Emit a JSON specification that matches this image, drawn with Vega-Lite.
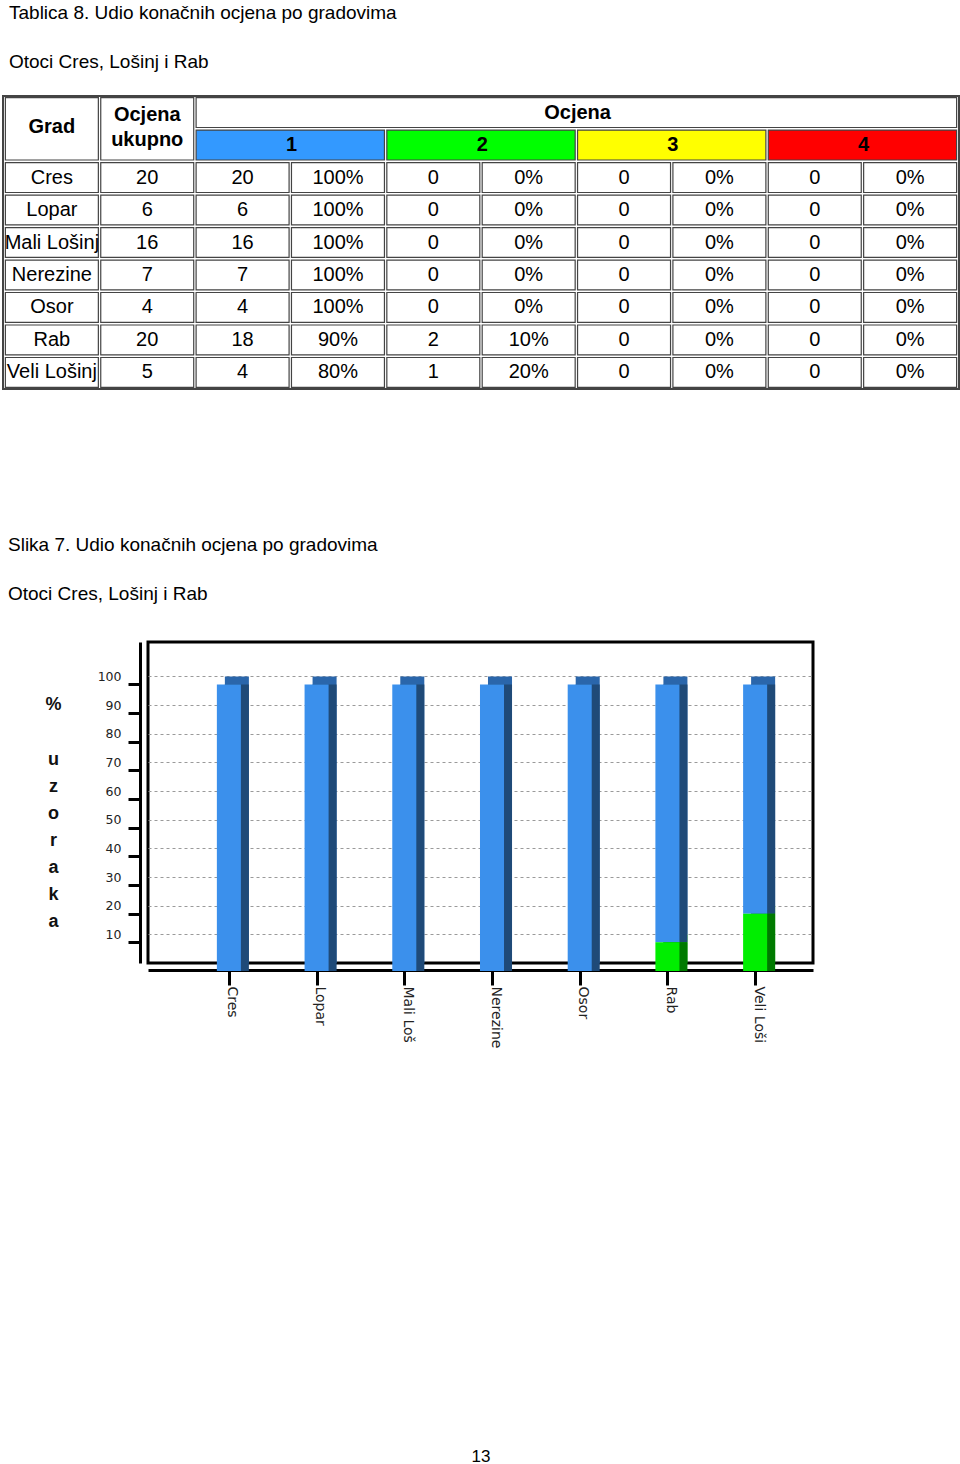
{
  "$schema": "https://vega.github.io/schema/vega-lite/v6.json",
  "background": "white",
  "padding": {"left": 2, "top": 3, "right": 0, "bottom": 0},
  "config": {
    "font": "Liberation Sans",
    "view": {"stroke": null},
    "title": {"fontSize": 19, "fontWeight": "normal", "color": "black", "subtitleFontSize": 19, "subtitleColor": "black", "subtitlePadding": 30, "anchor": "start"}
  },
  "datasets": {
    "tablica": [
      {"Grad": "Cres", "ukupno": 20, "n1": 20, "p1": "100%", "n2": 0, "p2": "0%", "n3": 0, "p3": "0%", "n4": 0, "p4": "0%"},
      {"Grad": "Lopar", "ukupno": 6, "n1": 6, "p1": "100%", "n2": 0, "p2": "0%", "n3": 0, "p3": "0%", "n4": 0, "p4": "0%"},
      {"Grad": "Mali Lošinj", "ukupno": 16, "n1": 16, "p1": "100%", "n2": 0, "p2": "0%", "n3": 0, "p3": "0%", "n4": 0, "p4": "0%"},
      {"Grad": "Nerezine", "ukupno": 7, "n1": 7, "p1": "100%", "n2": 0, "p2": "0%", "n3": 0, "p3": "0%", "n4": 0, "p4": "0%"},
      {"Grad": "Osor", "ukupno": 4, "n1": 4, "p1": "100%", "n2": 0, "p2": "0%", "n3": 0, "p3": "0%", "n4": 0, "p4": "0%"},
      {"Grad": "Rab", "ukupno": 20, "n1": 18, "p1": "90%", "n2": 2, "p2": "10%", "n3": 0, "p3": "0%", "n4": 0, "p4": "0%"},
      {"Grad": "Veli Lošinj", "ukupno": 5, "n1": 4, "p1": "80%", "n2": 1, "p2": "20%", "n3": 0, "p3": "0%", "n4": 0, "p4": "0%"}
    ],
    "zaglavlje": [
      {"r0": "h1", "r1": "h2", "c0": "Grad", "c1": "Grad", "tx": "Grad", "tekst": "Grad", "vrsta": "w", "spoj": "redci"},
      {"r0": "h1", "r1": "h2", "c0": "ukupno", "c1": "ukupno", "tx": "ukupno", "tekst": "Ocjena\nukupno", "vrsta": "w", "spoj": "redci2"},
      {"r0": "h1", "r1": "h1", "c0": "n1", "c1": "p4", "tx": "n3", "tekst": "Ocjena", "vrsta": "w", "spoj": "stupci"},
      {"r0": "h2", "r1": "h2", "c0": "n1", "c1": "p1", "tx": "p1", "tekst": "1", "vrsta": "1", "spoj": "stupci"},
      {"r0": "h2", "r1": "h2", "c0": "n2", "c1": "p2", "tx": "p2", "tekst": "2", "vrsta": "2", "spoj": "stupci"},
      {"r0": "h2", "r1": "h2", "c0": "n3", "c1": "p3", "tx": "p3", "tekst": "3", "vrsta": "3", "spoj": "stupci"},
      {"r0": "h2", "r1": "h2", "c0": "n4", "c1": "p4", "tx": "p4", "tekst": "4", "vrsta": "4", "spoj": "stupci"}
    ],
    "grafikon": [
      {"grad": "Cres", "ocjena": "1", "postotak": 100}, {"grad": "Cres", "ocjena": "2", "postotak": 0},
      {"grad": "Lopar", "ocjena": "1", "postotak": 100}, {"grad": "Lopar", "ocjena": "2", "postotak": 0},
      {"grad": "Mali Lošinj", "ocjena": "1", "postotak": 100}, {"grad": "Mali Lošinj", "ocjena": "2", "postotak": 0},
      {"grad": "Nerezine", "ocjena": "1", "postotak": 100}, {"grad": "Nerezine", "ocjena": "2", "postotak": 0},
      {"grad": "Osor", "ocjena": "1", "postotak": 100}, {"grad": "Osor", "ocjena": "2", "postotak": 0},
      {"grad": "Rab", "ocjena": "1", "postotak": 90}, {"grad": "Rab", "ocjena": "2", "postotak": 10},
      {"grad": "Veli Lošinj", "ocjena": "1", "postotak": 80}, {"grad": "Veli Lošinj", "ocjena": "2", "postotak": 20}
    ],
    "stranica": [{"broj": "13"}],
    "prazno": []
  },
  "spacing": 398,
  "vconcat": [
    {
      "spacing": 144,
      "vconcat": [
        {
          "width": 956,
          "height": 293,
          "view": {"stroke": "#444", "strokeWidth": 2, "fill": "white"},
          "title": {"text": "Tablica 8. Udio konačnih ocjena po gradovima", "subtitle": "Otoci Cres, Lošinj i Rab", "frame": "group", "dx": 6, "offset": 24},
          "layer": [
            {
              "data": {"name": "tablica"},
              "transform": [{"fold": ["Grad", "ukupno", "n1", "p1", "n2", "p2", "n3", "p3", "n4", "p4"], "as": ["stupac", "vrijednost"]}],
              "mark": {"type": "rect", "fill": "white", "stroke": "#444", "strokeWidth": 1.2},
              "encoding": {
                "x": {"field": "stupac", "type": "nominal", "axis": null, "scale": {"domain": ["Grad", "ukupno", "n1", "p1", "n2", "p2", "n3", "p3", "n4", "p4"], "paddingInner": 0.025, "paddingOuter": 0.025}},
                "y": {"field": "Grad", "type": "nominal", "axis": null, "scale": {"domain": ["h1", "h2", "Cres", "Lopar", "Mali Lošinj", "Nerezine", "Osor", "Rab", "Veli Lošinj"], "paddingInner": 0.08, "paddingOuter": 0.05}}
              }
            },
            {
              "data": {"name": "tablica"},
              "transform": [{"fold": ["Grad", "ukupno", "n1", "p1", "n2", "p2", "n3", "p3", "n4", "p4"], "as": ["stupac", "vrijednost"]}],
              "mark": {"type": "text", "fontSize": 20, "color": "black"},
              "encoding": {
                "x": {"field": "stupac", "type": "nominal", "axis": null},
                "y": {"field": "Grad", "type": "nominal", "axis": null},
                "text": {"field": "vrijednost", "type": "nominal"}
              }
            },
            {
              "data": {"name": "zaglavlje"},
              "mark": {"type": "rect", "stroke": "#444", "strokeWidth": 1.2},
              "encoding": {
                "x": {"field": "c0", "type": "nominal", "bandPosition": 0, "axis": null},
                "x2": {"field": "c1", "bandPosition": 1},
                "y": {"field": "r0", "type": "nominal", "bandPosition": 0, "axis": null},
                "y2": {"field": "r1", "bandPosition": 1},
                "fill": {"field": "vrsta", "type": "nominal", "legend": null, "scale": {"domain": ["w", "1", "2", "3", "4"], "range": ["#ffffff", "#3399ff", "#00ff00", "#ffff00", "#ff0000"]}}
              }
            },
            {
              "data": {"name": "zaglavlje"},
              "transform": [{"filter": "datum.spoj == 'redci'"}],
              "mark": {"type": "text", "fontSize": 20, "fontWeight": "bold", "color": "black", "dy": -3},
              "encoding": {
                "x": {"field": "c0", "type": "nominal", "axis": null},
                "y": {"field": "r1", "type": "nominal", "bandPosition": 0, "axis": null},
                "text": {"field": "tekst", "type": "nominal"}
              }
            },
            {
              "data": {"name": "zaglavlje"},
              "transform": [{"filter": "datum.spoj == 'redci2'"}],
              "mark": {"type": "text", "fontSize": 20, "fontWeight": "bold", "color": "black", "lineBreak": "\n", "lineHeight": 25, "dy": -15},
              "encoding": {
                "x": {"field": "c0", "type": "nominal", "axis": null},
                "y": {"field": "r1", "type": "nominal", "bandPosition": 0, "axis": null},
                "text": {"field": "tekst", "type": "nominal"}
              }
            },
            {
              "data": {"name": "zaglavlje"},
              "transform": [{"filter": "datum.spoj == 'stupci'"}],
              "mark": {"type": "text", "fontSize": 20, "fontWeight": "bold", "color": "black"},
              "encoding": {
                "x": {"field": "tx", "type": "nominal", "bandPosition": 0, "axis": null},
                "y": {"field": "r0", "type": "nominal", "axis": null},
                "text": {"field": "tekst", "type": "nominal"}
              }
            }
          ]
        },
        {
          "spacing": 2,
          "hconcat": [
            {
              "width": 1,
              "height": 1,
              "data": {"name": "prazno"},
              "mark": {"type": "rect"},
              "encoding": {}
            },
            {
              "width": 665,
              "height": 321,
              "view": {"stroke": "black", "strokeWidth": 3, "fill": "white"},
              "title": {"text": "Slika 7. Udio konačnih ocjena po gradovima", "subtitle": "Otoci Cres, Lošinj i Rab", "frame": "group", "dx": -140, "offset": 38},
              "data": {"name": "grafikon"},
              "encoding": {
                "x": {
                  "field": "grad", "type": "nominal",
                  "scale": {"domain": ["Cres", "Lopar", "Mali Lošinj", "Nerezine", "Osor", "Rab", "Veli Lošinj"], "paddingInner": 0.726, "paddingOuter": 0.654, "align": 0.67},
                  "axis": {"orient": "bottom", "offset": 7, "title": null, "domainColor": "black", "domainWidth": 3, "tickColor": "black", "tickWidth": 3, "tickSize": 15, "tickOffset": -8, "labelAngle": 90, "labelFont": "DejaVu Sans", "labelFontSize": 14, "labelColor": "#222", "labelPadding": 1, "labelOffset": 3,
                    "labelExpr": "datum.value == 'Mali Lošinj' ? 'Mali Loš' : datum.value == 'Veli Lošinj' ? 'Veli Loši' : datum.value"}
                },
                "order": {"field": "ocjena", "sort": "descending"}
              },
              "layer": [
                {
                  "mark": {"type": "bar"},
                  "encoding": {
                    "y": {"field": "postotak", "type": "quantitative", "stack": "zero", "scale": {"domain": [0, 112], "nice": false},
                      "axis": {"orient": "left", "values": [10, 20, 30, 40, 50, 60, 70, 80, 90, 100], "ticks": false, "domain": false, "grid": true, "gridColor": "#9a9a9a", "gridDash": [3, 3], "gridWidth": 1,
                        "labelFont": "DejaVu Sans", "labelFontSize": 12.5, "labelColor": "#222", "labelPadding": 27,
                        "title": ["u", "z", "o", "r", "a", "k", "a"], "titleAngle": 0, "titleAlign": "center", "titleBaseline": "top", "titleX": -95, "titleY": 108, "titleFontSize": 18, "titleFontWeight": "bold", "titleLineHeight": 27, "titleColor": "#111"}},
                    "color": {"field": "ocjena", "type": "nominal", "legend": null, "scale": {"domain": ["1", "2", "3", "4"], "range": ["#2a66ab", "#00a800", "#c8c800", "#c80000"]}}
                  }
                },
                {
                  "mark": {"type": "bar", "yOffset": 8, "y2Offset": 8},
                  "encoding": {
                    "y": {"field": "postotak", "type": "quantitative", "stack": "zero", "axis": null},
                    "color": {"field": "ocjena", "type": "nominal", "legend": null, "scale": {"domain": ["1", "2", "3", "4"], "range": ["#1f4a78", "#007a00", "#8a8a00", "#8a0000"]}}
                  }
                },
                {
                  "mark": {"type": "bar", "xOffset": -8, "x2Offset": -8, "yOffset": 8, "y2Offset": 8},
                  "encoding": {
                    "y": {"field": "postotak", "type": "quantitative", "stack": "zero",
                      "axis": {"orient": "left", "offset": 8, "values": [10, 20, 30, 40, 50, 60, 70, 80, 90, 100], "labels": false, "grid": false, "domain": true, "domainColor": "black", "domainWidth": 3, "ticks": true, "tickColor": "black", "tickWidth": 3, "tickSize": 12, "tickOffset": 8,
                        "title": "%", "titleAngle": 0, "titleAlign": "center", "titleBaseline": "top", "titleX": -87, "titleY": 53, "titleFontSize": 18, "titleFontWeight": "bold", "titleColor": "#111"}},
                    "color": {"field": "ocjena", "type": "nominal", "legend": null, "scale": {"domain": ["1", "2", "3", "4"], "range": ["#3b90ec", "#00ee00", "#ffff00", "#ff0000"]}}
                  }
                }
              ],
              "resolve": {"scale": {"color": "independent"}, "axis": {"y": "independent"}}
            }
          ]
        }
      ]
    },
    {
      "width": 956,
      "height": 14,
      "data": {"name": "stranica"},
      "mark": {"type": "text", "fontSize": 17, "color": "black"},
      "encoding": {"text": {"field": "broj", "type": "nominal"}}
    }
  ]
}
